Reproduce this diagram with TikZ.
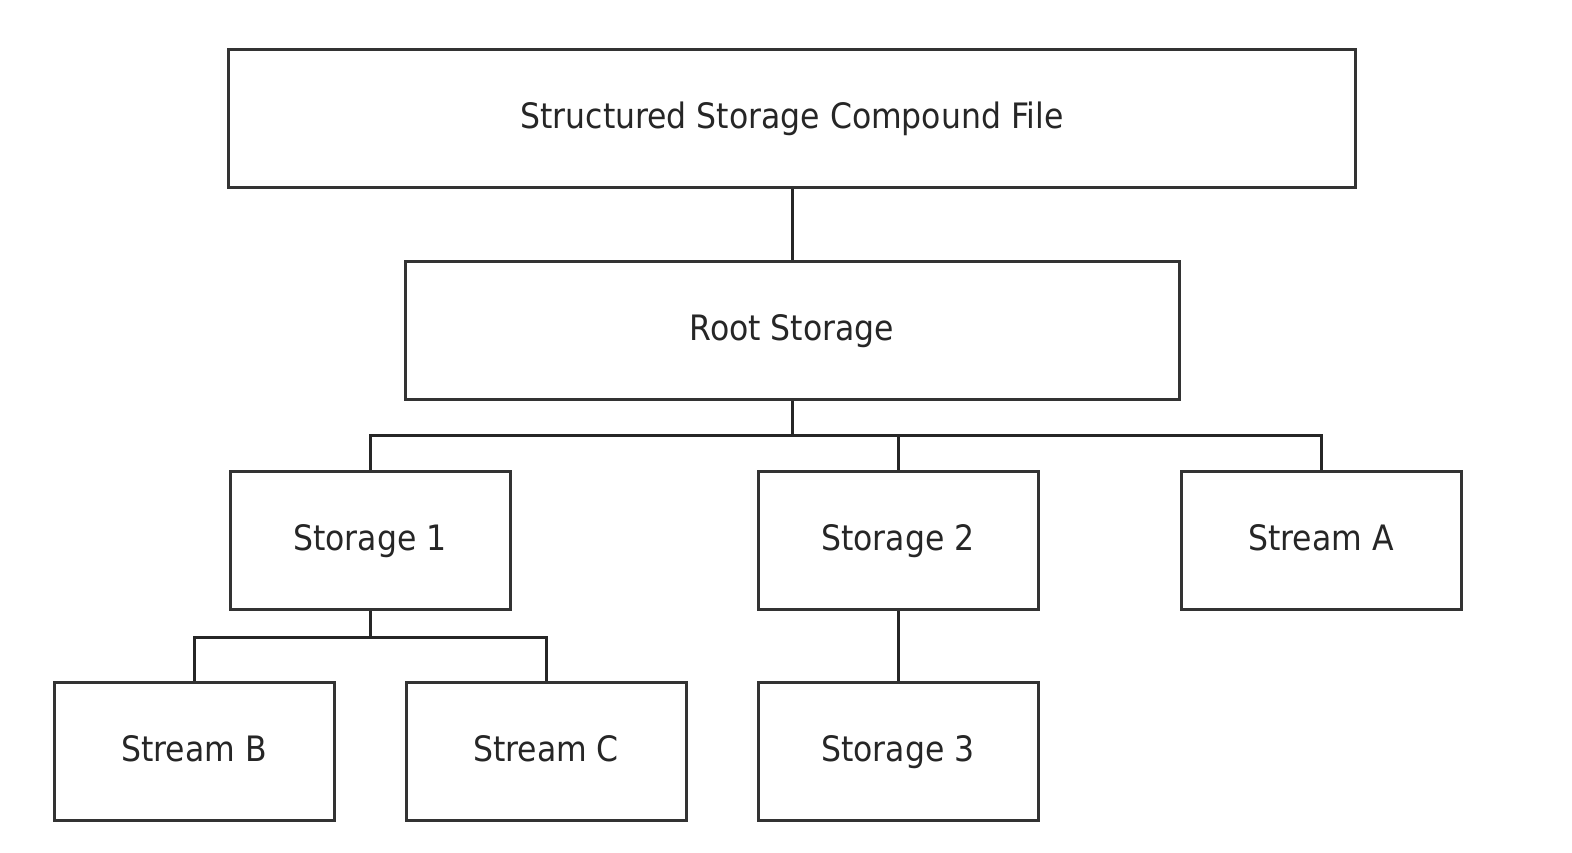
\documentclass[tikz,border=0pt]{standalone}
\usepackage{fontspec}
\setmainfont{DejaVu Sans Condensed}
\usetikzlibrary{calc}

\begin{document}
\begin{tikzpicture}[x=1pt,y=1pt,
    box/.style={draw=black!80, line width=3pt, minimum height=138pt,
      minimum width=280pt, inner sep=0pt, text height=26pt, text depth=6pt,
      font=\fontsize{35}{40}\selectfont, text=black!85},
    link/.style={draw=black!85, line width=3pt}]

  % --- Canvas ---
  \useasboundingbox (0,0) rectangle (1572,-852);

  % --- Boxes ---
  \node[box, minimum width=1127pt] (file) at (792,-118) {Structured Storage Compound File};
  \node[box, minimum width=774pt] (root) at (792,-330) {Root Storage};
  \node[box] (stor1) at (370,-540) {Storage 1};
  \node[box] (stor2) at (898,-540) {Storage 2};
  \node[box] (strA) at (1321,-540) {Stream A};
  \node[box] (strB) at (194,-751) {Stream B};
  \node[box] (strC) at (546,-751) {Stream C};
  \node[box] (stor3) at (898,-751) {Storage 3};

  % --- Bus points ---
  \coordinate (busR) at ($(root.south)+(0,-35)$);
  \coordinate (bus1) at ($(stor1.south)+(0,-27)$);

  % --- Connectors ---
  \draw[link] (file.south) -- (root.north);
  \draw[link] (root.south) -- (busR);
  \draw[link] (busR) -| (stor1.north);
  \draw[link] (busR) -| (stor2.north);
  \draw[link] (busR) -| (strA.north);
  \draw[link] (stor1.south) -- (bus1);
  \draw[link] (bus1) -| (strB.north);
  \draw[link] (bus1) -| (strC.north);
  \draw[link] (stor2.south) -- (stor3.north);

\end{tikzpicture}
\end{document}
